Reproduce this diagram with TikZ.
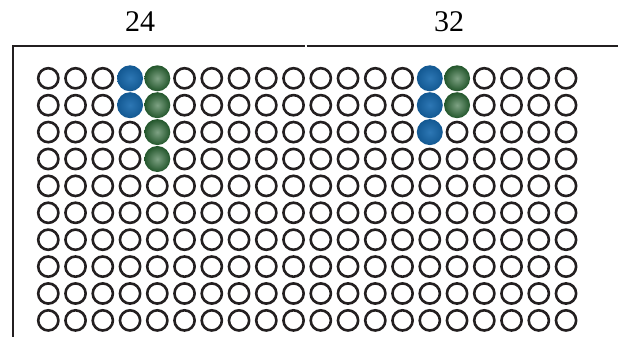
\documentclass[tikz,border=0pt]{standalone}
\usepackage{fontspec}
\setmainfont{Liberation Serif}
\definecolor{holeline}{RGB}{35,31,32}
\definecolor{beadblue}{RGB}{22,104,172}
\definecolor{beadgreen}{RGB}{40,100,50}

\begin{document}
\begin{tikzpicture}[
  x=1pt, y=-1pt,
  hole/.style={circle, draw=holeline, line width=2.6pt, minimum size=20.2pt, inner sep=0pt},
  bluebead/.style={circle, minimum size=26pt, inner sep=0pt, shading=radial, inner color=beadblue!90!white, outer color=beadblue!85!black},
  greenbead/.style={circle, minimum size=26pt, inner sep=0pt, shading=radial, inner color=beadgreen!60!white, outer color=beadgreen!85!black},
  numlabel/.style={font=\fontsize{30}{30}\selectfont, inner sep=0pt},
  frame/.style={draw=holeline, line width=2pt}
]
\useasboundingbox (0,0) rectangle (624,337);

% holes, 20 columns by 10 rows
\foreach \r in {0,...,9}
  \foreach \c in {0,...,19}
    \node[hole] (h-\r-\c) at ({48.3+27.25*\c},{78.3+26.9*\r}) {};

% beads
\foreach \r in {0,1}
  \node[bluebead] (b-\r-3) at (h-\r-3) {};
\foreach \r in {0,...,3}
  \node[greenbead] (g-\r-4) at (h-\r-4) {};
\foreach \r in {0,1,2}
  \node[bluebead] (b-\r-14) at (h-\r-14) {};
\foreach \r in {0,1}
  \node[greenbead] (g-\r-15) at (h-\r-15) {};

% labels
\node[numlabel] (lefttop) at (140,22) {24};
\node[numlabel] (righttop) at (449,22) {32};

% frame lines
\coordinate (corner) at (12.7,45.7);
\coordinate (bottom) at (12.7,337);
\coordinate (gapl) at (305,45.7);
\coordinate (gapr) at (306.5,45.7);
\coordinate (rightend) at (618,45.7);
\draw[frame] (bottom) -- (corner) -- (gapl);
\draw[frame] (gapr) -- (rightend);
\end{tikzpicture}
\end{document}
